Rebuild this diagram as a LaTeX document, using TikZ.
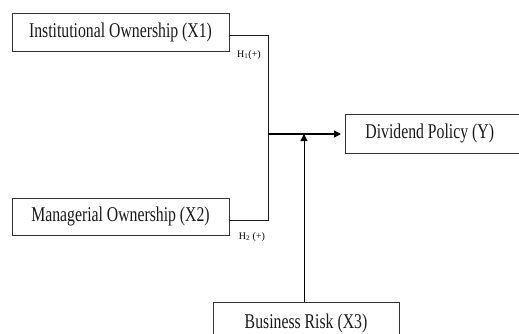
\documentclass[tikz,border=0pt]{standalone}
\usepackage{fontspec}
\setmainfont{Liberation Serif}[FakeStretch=0.75]
\newfontfamily\labfont{Liberation Serif}
\usetikzlibrary{arrows.meta,calc}
\begin{document}
\begin{tikzpicture}[x=1pt,y=-1pt,
  box/.style={draw=black!80, line width=0.8pt, rectangle, inner sep=0pt, text=black!90, font=\fontsize{21}{24}\selectfont},
  conn/.style={draw=black!90, line width=0.9pt},
  arr/.style={draw=black, line width=1.3pt, -{Triangle[length=7pt,width=7pt]}},
  lab/.style={inner sep=0pt, font=\labfont\fontsize{10}{12}\selectfont}]
\useasboundingbox (0,0) rectangle (519,334);
\clip (0,0) rectangle (519,334);
\node[box, minimum width=217pt, minimum height=38pt] (x1) at (120.5,32) {Institutional Ownership (X1)};
\node[box, minimum width=217pt, minimum height=37pt] (x2) at (120.5,216.5) {Managerial Ownership (X2)};
\node[box, anchor=north west, minimum width=200pt, minimum height=39pt, text width=160pt, inner xsep=19pt, align=flush left] (y) at (345,114) {Dividend Policy (Y)};
\node[box, anchor=north, minimum width=186pt, minimum height=42pt] (x3) at (306,302) {Business Risk (X3)};
\coordinate (j) at (268,134);
\coordinate (b) at (304,134);
\draw[conn] ([yshift=-3pt]x1.east) -| (j);
\draw[conn] ([yshift=-3.5pt]x2.east) -| (j);
\draw[arr] (j) -- ($(j -| y.west)+(-4,0)$);
\draw[arr, line width=1pt] (b |- x3.north) -- (b);
\node[lab] (h1) at (249,55) {H\textsubscript{1}(+)};
\node[lab] (h2) at (252,237) {H\textsubscript{2} (+)};
\end{tikzpicture}
\end{document}
